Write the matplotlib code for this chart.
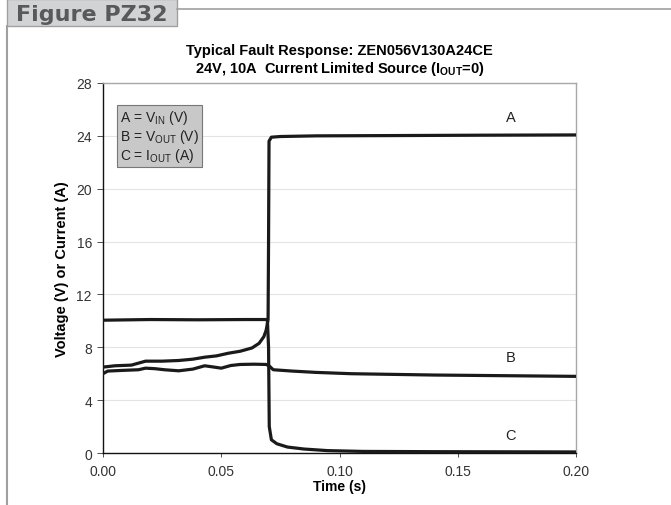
import matplotlib.pyplot as plt
from matplotlib.patches import Rectangle
from matplotlib.lines import Line2D

plt.rcParams['font.family'] = ['Liberation Sans', 'DejaVu Sans']

# curve A: V_IN (V)
t_a = [0, 0.005, 0.012, 0.018, 0.025, 0.032, 0.038, 0.043, 0.048, 0.053, 0.058,
       0.063, 0.066, 0.068, 0.069, 0.0698, 0.0700, 0.0702, 0.0712, 0.075, 0.09,
       0.12, 0.16, 0.20]
v_a = [6.5, 6.6, 6.65, 6.95, 6.95, 7.0, 7.1, 7.25, 7.35, 7.55, 7.7,
       7.95, 8.3, 8.8, 9.3, 10.1, 16.0, 23.6, 23.9, 23.95, 24.0,
       24.02, 24.05, 24.07]

# curve B: V_OUT (V)
t_b = [0, 0.002, 0.008, 0.015, 0.018, 0.022, 0.026, 0.032, 0.038, 0.043, 0.047,
       0.050, 0.054, 0.058, 0.064, 0.069, 0.0702, 0.072, 0.08, 0.09, 0.105, 0.14,
       0.17, 0.20]
v_b = [6.0, 6.2, 6.25, 6.3, 6.42, 6.38, 6.3, 6.22, 6.35, 6.6, 6.5,
       6.42, 6.62, 6.7, 6.72, 6.7, 6.6, 6.3, 6.2, 6.1, 6.0, 5.9,
       5.85, 5.8]

# curve C: I_OUT (A)
t_c = [0, 0.02, 0.04, 0.06, 0.0695, 0.0700, 0.0703, 0.0712, 0.0735, 0.078,
       0.085, 0.095, 0.11, 0.14, 0.20]
v_c = [10.05, 10.1, 10.08, 10.1, 10.1, 8.0, 2.0, 1.0, 0.7, 0.45,
       0.3, 0.18, 0.12, 0.1, 0.08]

x_ticks = [0.00, 0.05, 0.10, 0.15, 0.20]
y_ticks = [0, 4, 8, 12, 16, 20, 24, 28]

fig = plt.figure(figsize=(6.71, 5.06), dpi=100)

# page frame: header tab and border lines
fig.add_artist(Line2D([7 / 671, 7 / 671], [0, 1 - 27 / 506], color='#a0a0a0', lw=1.5,
                      transform=fig.transFigure))
fig.add_artist(Line2D([177 / 671, 1], [1 - 10 / 506, 1 - 10 / 506], color='#a0a0a0', lw=1.2,
                      transform=fig.transFigure))
fig.add_artist(Rectangle((7 / 671, 1 - 27 / 506), 170 / 671, 27.5 / 506, transform=fig.transFigure,
                         facecolor='#d2d3d5', edgecolor='#a0a0a0', lw=1.0))
fig.text(16 / 671, 1 - 15 / 506, 'Figure PZ32', fontsize=16, fontweight='bold',
         color='#58595b', family=['DejaVu Sans'], va='center', ha='left')

ax = fig.add_axes([103 / 671, 1 - 454 / 506, 473 / 671, 370 / 506])
ax.plot(t_a, v_a, color='#1a1a1a', lw=2.3, solid_capstyle='round', zorder=3)
ax.plot(t_b, v_b, color='#1a1a1a', lw=2.3, solid_capstyle='round', zorder=3)
ax.plot(t_c, v_c, color='#1a1a1a', lw=2.3, solid_capstyle='round', zorder=3)

ax.set_xlim(0, 0.2)
ax.set_ylim(0, 28)
ax.set_xticks(x_ticks)
ax.set_xticklabels([f'{v:.2f}' for v in x_ticks])
ax.set_yticks(y_ticks)
ax.yaxis.grid(True, color='#e3e3e3', lw=0.8)
ax.set_axisbelow(True)
ax.tick_params(labelsize=10, colors='#333333', length=3, width=0.6)
ax.tick_params(axis='y', length=4, pad=4)
ax.tick_params(axis='x', pad=5)
for s in ['top', 'right']:
    ax.spines[s].set_color('#a8a8a8')
    ax.spines[s].set_linewidth(1.0)
for s in ['left', 'bottom']:
    ax.spines[s].set_color('#111111')
    ax.spines[s].set_linewidth(1.0)

ax.set_xlabel('Time (s)', fontsize=10, fontweight='bold', labelpad=1)
ax.set_ylabel('Voltage (V) or Current (A)', fontsize=10.5, fontweight='bold', labelpad=5)
ax.set_title('Typical Fault Response: ZEN056V130A24CE\n'
             '24V, 10A  Current Limited Source (I$_{\\mathregular{OUT}}$=0)',
             fontsize=10.5, fontweight='bold', linespacing=1.15, pad=8)

ax.text(0.1725, 25.4, 'A', fontsize=10.5, ha='center', va='center', color='#222222')
ax.text(0.1725, 7.25, 'B', fontsize=10.5, ha='center', va='center', color='#222222')
ax.text(0.1725, 1.4, 'C', fontsize=10.5, ha='center', va='center', color='#222222')

ax.text(0.0072, 24.0,
        'A = V$_{\\mathregular{IN}}$ (V)\nB = V$_{\\mathregular{OUT}}$ (V)\nC = I$_{\\mathregular{OUT}}$ (A)',
        fontsize=10, ha='left', va='center', color='#222222', linespacing=1.05,
        bbox=dict(boxstyle='square,pad=0.25', facecolor='#c8c8c8', edgecolor='#777777', lw=0.8))

fig.savefig('out.png', dpi=100)
